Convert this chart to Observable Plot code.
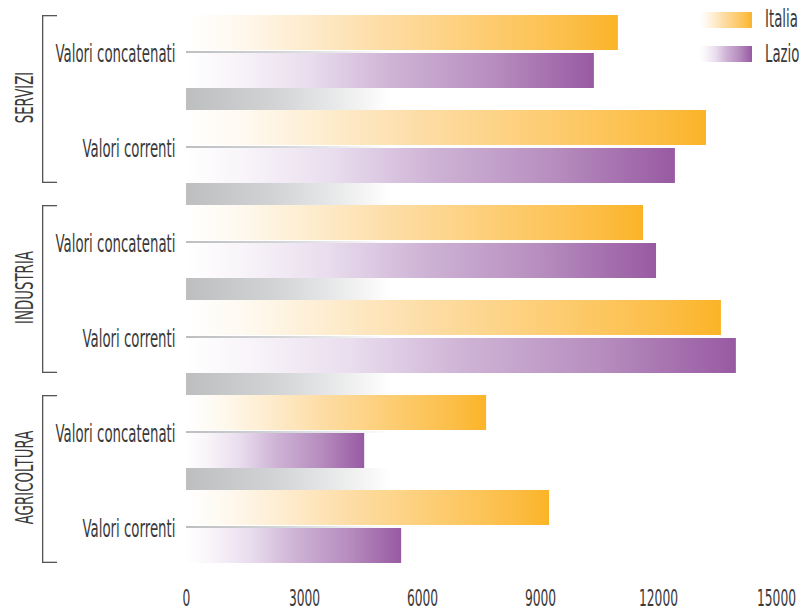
<!DOCTYPE html>
<html>
<head>
<meta charset="utf-8">
<script src="https://cdn.jsdelivr.net/npm/d3@7"></script>
<script src="https://cdn.jsdelivr.net/npm/@observablehq/plot@0.6"></script>
<style>
  body { margin: 0; background: #fff; }
  #wrap { position: relative; width: 803px; height: 611px; overflow: hidden; }
  #legend { position: absolute; left: 0; top: 0; pointer-events: none; }
</style>
</head>
<body>
<svg width="0" height="0" style="position:absolute">
  <defs>
    <linearGradient id="gItalia" x1="0" x2="1" y1="0" y2="0">
      <stop offset="0" stop-color="#ffffff"/>
      <stop offset="0.1" stop-color="#fefaf2"/>
      <stop offset="0.25" stop-color="#feeed3"/>
      <stop offset="0.45" stop-color="#fddda6"/>
      <stop offset="0.7" stop-color="#fdcc70"/>
      <stop offset="0.9" stop-color="#fcbd45"/>
      <stop offset="1" stop-color="#fbb427"/>
    </linearGradient>
    <linearGradient id="gLazio" x1="0" x2="1" y1="0" y2="0">
      <stop offset="0" stop-color="#ffffff"/>
      <stop offset="0.12" stop-color="#f8f4f9"/>
      <stop offset="0.3" stop-color="#e9ddee"/>
      <stop offset="0.5" stop-color="#cfb4d6"/>
      <stop offset="0.75" stop-color="#b78ebf"/>
      <stop offset="1" stop-color="#985aa2"/>
    </linearGradient>
    <linearGradient id="gGray" x1="0" x2="1" y1="0" y2="0">
      <stop offset="0" stop-color="#bdbec0"/>
      <stop offset="0.15" stop-color="#d2d3d5"/>
      <stop offset="0.24" stop-color="#e5e6e7"/>
      <stop offset="0.31" stop-color="#f6f6f6"/>
      <stop offset="0.345" stop-color="#ffffff"/>
      <stop offset="1" stop-color="#ffffff"/>
    </linearGradient>
  </defs>
</svg>
<div id="wrap"></div>
<script>
const sectors = ["SERVIZI", "INDUSTRIA", "AGRICOLTURA"];
const measures = ["Valori concatenati", "Valori correnti"];
const series = ["Italia", "Lazio"];
// values in order: SERVIZI (concatenati, correnti), INDUSTRIA (...), AGRICOLTURA (...)
const italia = [10980, 13220, 11620, 13600, 7630, 9230];
const lazio  = [10370, 12430, 11950, 13980, 4530, 5470];
const xDomain = [0, 15000];
const xTicks = [0, 3000, 6000, 9000, 12000, 15000];

const FONT = '"Liberation Sans Narrow", "DejaVu Sans", "Liberation Sans", sans-serif';
const TEXT = "#3a3a3a";

const rows = [];
sectors.forEach((s, i) => measures.forEach((m, j) => rows.push({
  sector: s, measure: m, italia: italia[i * 2 + j], lazio: lazio[i * 2 + j]
})));
const seps = rows.slice(0, -1);

const W = 803 - 186 - 27; // frame width (for bracket insets)

const chart = Plot.plot({
  width: 803, height: 611,
  marginTop: 15, marginBottom: 26, marginLeft: 186, marginRight: 27,
  style: {fontFamily: FONT, fontSize: "25px", color: TEXT, background: "transparent", overflow: "visible"},
  x: {domain: xDomain, label: null},
  y: {domain: measures, padding: 0, axis: null},
  fy: {domain: sectors, padding: 0, axis: null},
  marks: [
    Plot.barX(seps, {fy: "sector", y: "measure", x1: 0, x2: xDomain[1], insetTop: 73, fill: "url(#gGray)"}),
    Plot.barX(rows, {fy: "sector", y: "measure", x1: 0, x2: xDomain[1], insetTop: 36, insetBottom: 57, fill: "url(#gGray)"}),
    Plot.barX(rows, {fy: "sector", y: "measure", x1: 0, x2: "italia", insetBottom: 60, fill: "url(#gItalia)"}),
    Plot.barX(rows, {fy: "sector", y: "measure", x1: 0, x2: "lazio", insetTop: 38, insetBottom: 22, fill: "url(#gLazio)"}),
    // bracket
    Plot.rect(sectors, {fy: d => d, insetLeft: -144, insetRight: W + 144 - 1.3, insetBottom: 22, fill: "#555"}),
    Plot.rect(sectors, {fy: d => d, insetLeft: -144, insetRight: W + 144 - 15, insetBottom: 190 - 1.3, fill: "#555"}),
    Plot.rect(sectors, {fy: d => d, insetLeft: -144, insetRight: W + 144 - 15, insetTop: 168 - 1.3, insetBottom: 22, fill: "#555"}),
    // sector labels
    Plot.text(sectors, {fy: d => d, text: d => d, frameAnchor: "left", textAnchor: "middle", rotate: -90, dx: -162, dy: -13, fill: TEXT}),
    // measure labels
    Plot.text(rows, {fy: "sector", y: "measure", text: "measure", frameAnchor: "left", textAnchor: "end", dx: -11, dy: -9, fill: TEXT}),
    // x axis
    Plot.axisX({ticks: xTicks, tickFormat: d => String(d), tickSize: 0, tickPadding: 4, fontSize: 23, fill: TEXT, label: null})
  ]
});

const wrap = document.getElementById("wrap");
wrap.append(chart);

// legend overlay
const leg = d3.select(wrap).append("svg").attr("id", "legend").attr("width", 803).attr("height", 80)
  .style("font-family", FONT).style("font-size", "25px");
const grads = {Italia: "url(#gItalia)", Lazio: "url(#gLazio)"};
series.forEach((s, i) => {
  leg.append("rect").attr("x", 700).attr("y", 12 + i * 34).attr("width", 52).attr("height", 16).attr("fill", grads[s]);
  leg.append("text").attr("x", 765).attr("y", 27 + i * 35).attr("fill", TEXT).text(s);
});

// condense the text to mimic the condensed typeface
const allTexts = [...wrap.querySelectorAll("text")];
const ref = allTexts.find(t => t.textContent === "Valori concatenati");
const k = ref ? 120 / ref.getComputedTextLength() : 0.75;
allTexts.forEach(t => {
  const L = t.getComputedTextLength();
  if (L > 0) {
    t.setAttribute("textLength", (L * k).toFixed(2));
    t.setAttribute("lengthAdjust", "spacingAndGlyphs");
  }
});
</script>
</body>
</html>
